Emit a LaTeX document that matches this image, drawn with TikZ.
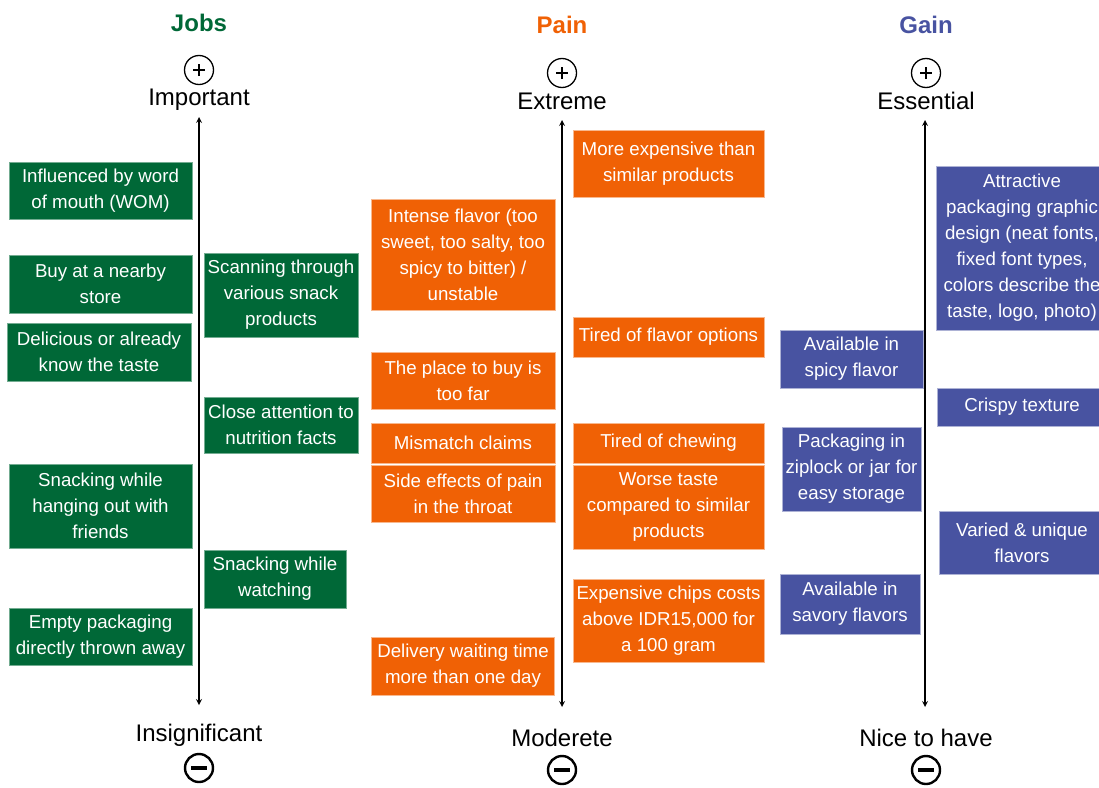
\documentclass[tikz,border=0pt]{standalone}
\usepackage{fontspec}
\setmainfont{Liberation Sans}
\usetikzlibrary{positioning}
\definecolor{jobgreen}{RGB}{0,104,55}
\definecolor{painorange}{RGB}{240,97,5}
\definecolor{gainblue}{RGB}{72,83,161}
\tikzset{%
  box/.style = {rectangle,text=white,align=center,inner sep=0pt,
        font=\fontsize{18.7}{26}\selectfont},
  sz/.style 2 args = {minimum width=#1pt,minimum height=#2pt},
  jobbox/.style = {box,fill=jobgreen,draw=jobgreen!55!white,line width=0.6pt},
  painbox/.style = {box,fill=painorange,draw=painorange!45!white,line width=0.6pt},
  gainbox/.style = {box,fill=gainblue,draw=gainblue!45!white,line width=0.6pt},
  title/.style = {font=\fontsize{24}{28}\selectfont\bfseries},
  rank/.style = {font=\fontsize{24}{28}\selectfont},
  axis/.style = {stealth-stealth,line width=1.6pt},
  pluscirc/.style = {circle,draw,line width=1.3pt,minimum size=29pt,inner sep=0pt,
        path picture={\draw[line width=1.4pt]
          ([xshift=-6pt]path picture bounding box.center) -- ([xshift=6pt]path picture bounding box.center)
          ([yshift=-6pt]path picture bounding box.center) -- ([yshift=6pt]path picture bounding box.center);}},
  minuscirc/.style = {circle,draw,line width=2.4pt,minimum size=28pt,inner sep=0pt,
        path picture={\draw[line width=3.2pt]
          ([xshift=-8pt]path picture bounding box.center) -- ([xshift=8pt]path picture bounding box.center);}}
}
\begin{document}
\begin{tikzpicture}[x=1pt,y=-1pt]
  \clip (0,0) rectangle (1099,787);
  % headers
  \node[title,text=jobgreen] (jobs) at (199,23) {Jobs};
  \node[title,text=painorange] (pain) at (562,25) {Pain};
  \node[title,text=gainblue] (gain) at (926,25) {Gain};
  \node[pluscirc] (jplus) at (199,70) {};
  \node[pluscirc] (pplus) at (562,73) {};
  \node[pluscirc] (gplus) at (926,73) {};
  \node[rank] (imp) at (199,100) {Important};
  \node[rank] (ext) at (562,101) {Extreme};
  \node[rank] (ess) at (926,101) {Essential};
  \node[rank] (insig) at (199,735) {Insignificant};
  \node[rank] (mod) at (562,738) {Moderete};
  \node[rank] (nice) at (926,738) {Nice to have};
  \node[minuscirc] (jminus) at (199,768) {};
  \node[minuscirc] (pminus) at (562,770) {};
  \node[minuscirc] (gminus) at (926,770) {};
  % axes
  \coordinate (jtop) at (199,117);
  \coordinate (jbot) at (199,705);
  \coordinate (ptop) at (562,120);
  \coordinate (pbot) at (562,707);
  \coordinate (gtop) at (925,120);
  \coordinate (gbot) at (925,707);
  \draw[axis] (jtop) -- (jbot);
  \draw[axis] (ptop) -- (pbot);
  \draw[axis] (gtop) -- (gbot);
  % jobs
  \node[jobbox,sz={183}{57}] (wom) at (100.5,190.5) {Influenced by word\\of mouth (WOM)};
  \node[jobbox,sz={183}{58}] (store) at (100.5,284) {Buy at a nearby\\store};
  \node[jobbox,sz={184}{58}] (taste) at (99,352) {Delicious or already\\know the taste};
  \node[jobbox,sz={154}{84}] (scan) at (281,295) {Scanning through\\various snack\\products};
  \node[jobbox,sz={154}{56}] (nutri) at (281,425) {Close attention to\\nutrition facts};
  \node[jobbox,sz={183}{84}] (friends) at (100.5,506) {Snacking while\\hanging out with\\friends};
  \node[jobbox,sz={142}{58}] (watch) at (275,579) {Snacking while\\watching};
  \node[jobbox,sz={183}{57}] (empty) at (100.5,636.5) {Empty packaging\\directly thrown away};
  % pain
  \node[painbox,sz={191}{67}] (moreexp) at (668.5,163.5) {More expensive than\\similar products};
  \node[painbox,sz={184}{111}] (intense) at (463,254.5) {Intense flavor (too\\sweet, too salty, too\\spicy to bitter) /\\unstable};
  \node[painbox,sz={191}{40}] (tiredflav) at (668.5,337) {Tired of flavor options};
  \node[painbox,sz={184}{57}] (place) at (463,380.5) {The place to buy is\\too far};
  \node[painbox,sz={184}{40}] (mismatch) at (463,443) {Mismatch claims};
  \node[painbox,sz={191}{40}] (chewing) at (668.5,443) {Tired of chewing};
  \node[painbox,sz={184}{57}] (side) at (463,493.5) {Side effects of pain\\in the throat};
  \node[painbox,sz={191}{84}] (worse) at (668.5,507) {Worse taste\\compared to similar\\products};
  \node[painbox,sz={191}{83}] (chips) at (668.5,620.5) {Expensive chips costs\\above IDR15,000 for\\a 100 gram};
  \node[painbox,sz={183}{58}] (delivery) at (463,666) {Delivery waiting time\\more than one day};
  % gain
  \node[gainbox,sz={172}{164}] (attract) at (1022,248) {Attractive\\packaging graphic\\design (neat fonts,\\fixed font types,\\colors describe the\\taste, logo, photo)};
  \node[gainbox,sz={143}{58}] (spicy) at (851.5,359) {Available in\\spicy flavor};
  \node[gainbox,sz={170}{38}] (crispy) at (1022,407) {Crispy texture};
  \node[gainbox,sz={139}{84}] (ziplock) at (851.5,469) {Packaging in\\ziplock or jar for\\easy storage};
  \node[gainbox,sz={166}{63}] (varied) at (1022,542.5) {Varied \& unique\\flavors};
  \node[gainbox,sz={140}{60}] (savory) at (850,604) {Available in\\savory flavors};
\end{tikzpicture}
\end{document}
